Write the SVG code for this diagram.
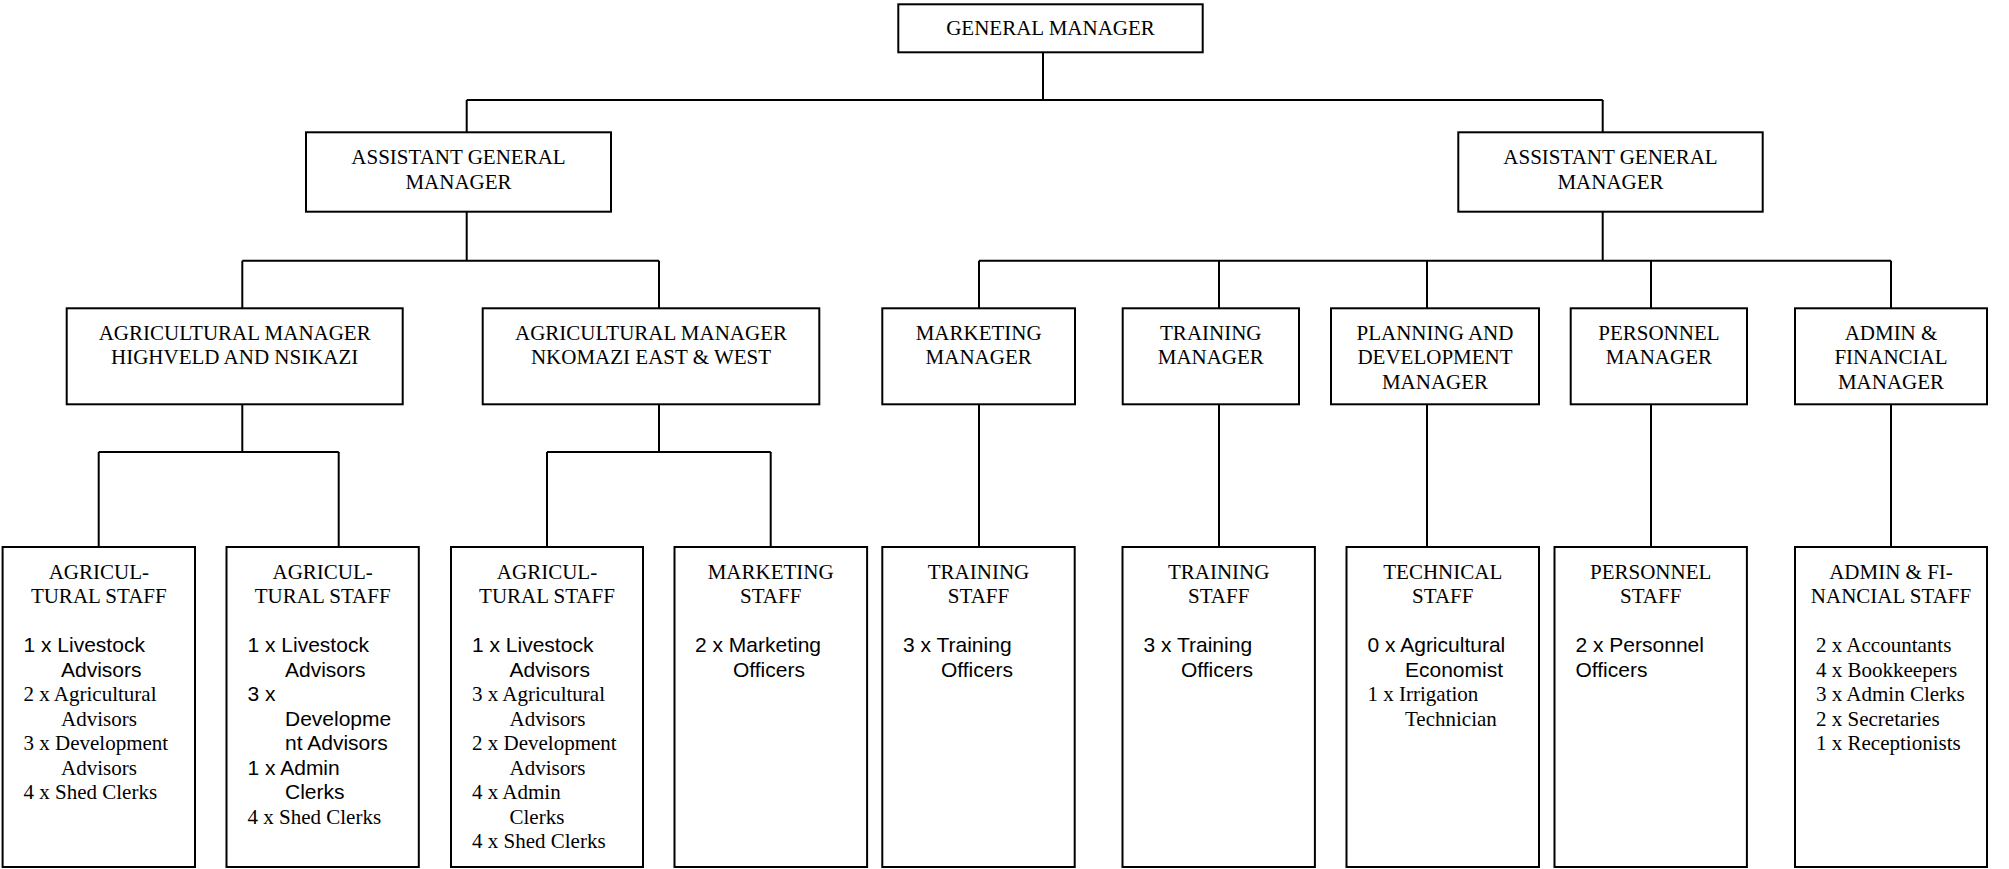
<svg xmlns="http://www.w3.org/2000/svg" width="2009" height="869" viewBox="0 0 2009 869">
<style>
.box{fill:#fff;stroke:#000;stroke-width:2}
.ln{fill:none;stroke:#000;stroke-width:2}
text{font-size:21px;fill:#000}
.s{font-family:"Liberation Serif","Times New Roman",serif}
.a{font-family:"Liberation Sans",Arial,sans-serif}
.c{text-anchor:middle}
</style>
<rect width="2009" height="869" fill="#fff"/>
<g id="connectors">
<path class="ln" d="M1043 52.3V100M466.7 100H1602.7M466.7 100V132.3M1602.7 100V132.3"/>
<path class="ln" d="M466.7 211.7V260.7M242.3 260.7H659M242.3 260.7V308.3M659 260.7V308.3"/>
<path class="ln" d="M1602.7 211.7V260.7M979 260.7H1891M979 260.7V308.3M1219 260.7V308.3M1427 260.7V308.3M1651 260.7V308.3M1891 260.7V308.3"/>
<path class="ln" d="M242.3 404.3V452M98.7 452H338.7M98.7 452V547M338.7 452V547"/>
<path class="ln" d="M659 404.3V452M547 452H770.7M547 452V547M770.7 452V547"/>
<path class="ln" d="M979 404.3V547M1219 404.3V547M1427 404.3V547M1651 404.3V547M1891 404.3V547"/>
</g>
<g id="gm"><rect class="box" x="898.3" y="4.3" width="304.4" height="48"/><text class="s c" x="1050.5" y="35">GENERAL MANAGER</text></g>
<g id="agm1"><rect class="box" x="306" y="132.3" width="305" height="79.4"/><text class="s c" x="458.5" y="164">ASSISTANT GENERAL</text><text class="s c" x="458.5" y="188.5">MANAGER</text></g>
<g id="agm2"><rect class="box" x="1458.3" y="132.3" width="304.4" height="79.4"/><text class="s c" x="1610.5" y="164">ASSISTANT GENERAL</text><text class="s c" x="1610.5" y="188.5">MANAGER</text></g>
<g id="am1"><rect class="box" x="66.7" y="308.3" width="336" height="96"/><text class="s c" x="234.7" y="339.5">AGRICULTURAL MANAGER</text><text class="s c" x="234.7" y="364">HIGHVELD AND NSIKAZI</text></g>
<g id="am2"><rect class="box" x="482.7" y="308.3" width="336.6" height="96"/><text class="s c" x="651" y="339.5">AGRICULTURAL MANAGER</text><text class="s c" x="651" y="364">NKOMAZI EAST &amp; WEST</text></g>
<g id="mm"><rect class="box" x="882.3" y="308.3" width="192.7" height="96"/><text class="s c" x="978.7" y="339.5">MARKETING</text><text class="s c" x="978.7" y="364">MANAGER</text></g>
<g id="tm"><rect class="box" x="1122.7" y="308.3" width="176.3" height="96"/><text class="s c" x="1210.8" y="339.5">TRAINING</text><text class="s c" x="1210.8" y="364">MANAGER</text></g>
<g id="pdm"><rect class="box" x="1331" y="308.3" width="208" height="96"/><text class="s c" x="1435" y="339.5">PLANNING AND</text><text class="s c" x="1435" y="364">DEVELOPMENT</text><text class="s c" x="1435" y="388.5">MANAGER</text></g>
<g id="pm"><rect class="box" x="1570.7" y="308.3" width="176.3" height="96"/><text class="s c" x="1658.9" y="339.5">PERSONNEL</text><text class="s c" x="1658.9" y="364">MANAGER</text></g>
<g id="afm"><rect class="box" x="1795" y="308.3" width="192" height="96"/><text class="s c" x="1891" y="339.5">ADMIN &amp;</text><text class="s c" x="1891" y="364">FINANCIAL</text><text class="s c" x="1891" y="388.5">MANAGER</text></g>
<g id="staff1"><rect class="box" x="2.6" y="547" width="192.4" height="320"/>
<text class="s c" x="98.8" y="578.5">AGRICUL-</text><text class="s c" x="98.8" y="603">TURAL STAFF</text>
<text class="a" x="23.5" y="652">1 x Livestock</text><text class="a" x="61" y="676.5">Advisors</text>
<text class="s" x="23.5" y="701">2 x Agricultural</text><text class="s" x="61" y="725.5">Advisors</text>
<text class="s" x="23.5" y="750">3 x Development</text><text class="s" x="61" y="774.5">Advisors</text>
<text class="s" x="23.5" y="799">4 x Shed Clerks</text></g>
<g id="staff2"><rect class="box" x="226.5" y="547" width="192.3" height="320"/>
<text class="s c" x="322.7" y="578.5">AGRICUL-</text><text class="s c" x="322.7" y="603">TURAL STAFF</text>
<text class="a" x="247.5" y="652">1 x Livestock</text><text class="a" x="285" y="676.5">Advisors</text>
<text class="a" x="247.5" y="701">3 x</text><text class="a" x="285" y="725.5">Developme</text>
<text class="a" x="285" y="750">nt Advisors</text>
<text class="a" x="247.5" y="774.5">1 x Admin</text><text class="a" x="285" y="799">Clerks</text>
<text class="s" x="247.5" y="823.5">4 x Shed Clerks</text></g>
<g id="staff3"><rect class="box" x="451" y="547" width="192" height="320"/>
<text class="s c" x="547" y="578.5">AGRICUL-</text><text class="s c" x="547" y="603">TURAL STAFF</text>
<text class="a" x="472" y="652">1 x Livestock</text><text class="a" x="509.5" y="676.5">Advisors</text>
<text class="s" x="472" y="701">3 x Agricultural</text><text class="s" x="509.5" y="725.5">Advisors</text>
<text class="s" x="472" y="750">2 x Development</text><text class="s" x="509.5" y="774.5">Advisors</text>
<text class="s" x="472" y="799">4 x Admin</text><text class="s" x="509.5" y="823.5">Clerks</text>
<text class="s" x="472" y="848">4 x Shed Clerks</text></g>
<g id="staff4"><rect class="box" x="674.5" y="547" width="192.6" height="320"/>
<text class="s c" x="770.7" y="578.5">MARKETING</text><text class="s c" x="770.7" y="603">STAFF</text>
<text class="a" x="695" y="652">2 x Marketing</text><text class="a" x="733" y="676.5">Officers</text></g>
<g id="staff5"><rect class="box" x="882.3" y="547" width="192.4" height="320"/>
<text class="s c" x="978.5" y="578.5">TRAINING</text><text class="s c" x="978.5" y="603">STAFF</text>
<text class="a" x="903" y="652">3 x Training</text><text class="a" x="941" y="676.5">Officers</text></g>
<g id="staff6"><rect class="box" x="1122.5" y="547" width="192.4" height="320"/>
<text class="s c" x="1218.7" y="578.5">TRAINING</text><text class="s c" x="1218.7" y="603">STAFF</text>
<text class="a" x="1143.5" y="652">3 x Training</text><text class="a" x="1181" y="676.5">Officers</text></g>
<g id="staff7"><rect class="box" x="1346.5" y="547" width="192.5" height="320"/>
<text class="s c" x="1442.8" y="578.5">TECHNICAL</text><text class="s c" x="1442.8" y="603">STAFF</text>
<text class="a" x="1367.5" y="652">0 x Agricultural</text><text class="a" x="1405" y="676.5">Economist</text>
<text class="s" x="1367.5" y="701">1 x Irrigation</text><text class="s" x="1405" y="725.5">Technician</text></g>
<g id="staff8"><rect class="box" x="1554.5" y="547" width="192.4" height="320"/>
<text class="s c" x="1650.7" y="578.5">PERSONNEL</text><text class="s c" x="1650.7" y="603">STAFF</text>
<text class="a" x="1575.5" y="652">2 x Personnel</text><text class="a" x="1575.5" y="676.5">Officers</text></g>
<g id="staff9"><rect class="box" x="1795" y="547" width="192" height="320"/>
<text class="s c" x="1891" y="578.5">ADMIN &amp; FI-</text><text class="s c" x="1891" y="603">NANCIAL STAFF</text>
<text class="s" x="1816" y="652">2 x Accountants</text><text class="s" x="1816" y="676.5">4 x Bookkeepers</text>
<text class="s" x="1816" y="701">3 x Admin Clerks</text><text class="s" x="1816" y="725.5">2 x Secretaries</text>
<text class="s" x="1816" y="750">1 x Receptionists</text></g>
</svg>
